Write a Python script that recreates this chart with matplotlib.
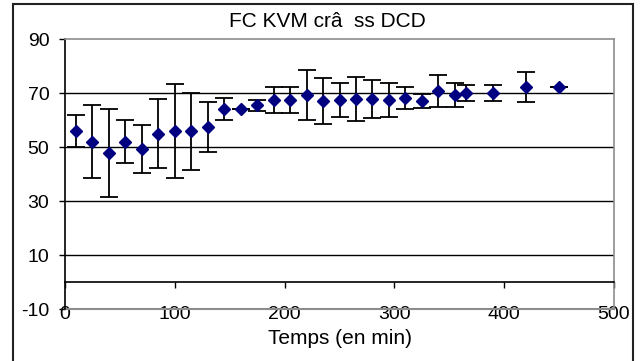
import numpy as np
import matplotlib
matplotlib.use("Agg")
from matplotlib import pyplot as plt
from matplotlib.patches import Rectangle

plt.rcParams['font.family'] = ['Liberation Sans', 'DejaVu Sans']
plt.rcParams['axes.unicode_minus'] = False

# time (min), mean value and error bar half-width
temps = [10, 25, 40, 55, 70, 85, 100, 115, 130, 145, 160, 175, 190, 205,
         220, 235, 250, 265, 280, 295, 310, 325, 340, 355, 365, 390, 420, 450]
fc = [55.8, 52.0, 47.8, 52.0, 49.2, 55.0, 55.8, 55.8, 57.5, 64.1, 64.1, 65.5,
      67.3, 67.3, 69.3, 67.0, 67.3, 67.9, 67.9, 67.3, 68.1, 67.0, 70.7, 69.3,
      70.0, 70.0, 72.2, 72.2]
err = [5.9, 13.6, 16.2, 7.9, 8.9, 12.8, 17.4, 14.3, 9.3, 4.0, 0.0, 2.0,
       4.8, 4.8, 9.3, 8.6, 6.3, 8.2, 7.1, 6.3, 4.1, 2.6, 6.0, 4.5,
       3.0, 3.0, 5.6, 0.0]

x_ticks = [0, 100, 200, 300, 400, 500]
y_ticks = [-10, 10, 30, 50, 70, 90]

W, H = 643, 361
fig = plt.figure(figsize=(W / 100, H / 100), dpi=100)
ax = fig.add_axes([65 / W, 1 - 309 / H, (614 - 65) / W, (309 - 39) / H])

# outer chart border
fig.patches.append(Rectangle((13 / W, -0.05), (633 - 13) / W, 1 - 4 / H + 0.05,
                             transform=fig.transFigure, fill=False,
                             edgecolor='#222222', linewidth=1.5))

ax.set_xlim(0, 500)
ax.set_ylim(-10, 90)

for yv in y_ticks[1:-1]:
    ax.axhline(yv, color='black', linewidth=1, zorder=1)

ax.errorbar(temps, fc, yerr=err, fmt='D', color='#000080', markersize=5.8,
            ecolor='black', elinewidth=1.3, capsize=6.5, capthick=1.3, zorder=3)

gray = '#8c8c8c'
ax.spines['top'].set_color(gray)
ax.spines['right'].set_color(gray)
ax.spines['left'].set_color('black')
ax.spines['bottom'].set_position(('data', 0))
ax.spines['bottom'].set_color('black')
ax.axhline(-10, color=gray, linewidth=1.5, clip_on=False, zorder=2)
for s in ax.spines.values():
    s.set_linewidth(1.2)

ax.set_xticks(x_ticks)
ax.set_yticks(y_ticks)
ax.tick_params(axis='x', direction='out', length=4, width=1, pad=13, labelsize=14)
ax.tick_params(axis='y', direction='out', length=4.3, width=1, pad=7, labelsize=14)

fig.text(327 / W, 1 - 21.5 / H, "FC KVM crâ  ss DCD", ha='center', va='center',
         fontsize=15)
fig.text(339.5 / W, 1 - 339 / H, "Temps (en min)", ha='center', va='center',
         fontsize=15)

fig.savefig("out.png", dpi=100)
